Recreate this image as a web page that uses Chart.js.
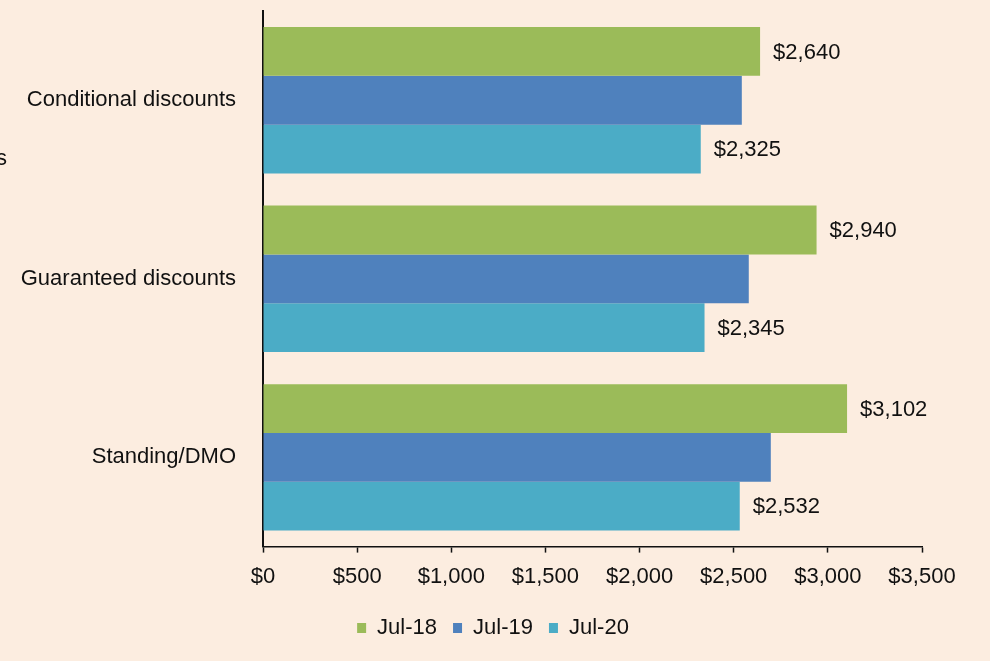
<!DOCTYPE html>
<html>
<head>
<meta charset="utf-8">
<script src="https://cdn.jsdelivr.net/npm/chart.js@4/dist/chart.umd.min.js"></script>
<style>
  html, body { margin: 0; padding: 0; background: #fcede0; }
  #wrap { width: 990px; height: 661px; position: relative; }
</style>
</head>
<body>
<div id="wrap"><canvas id="graph"></canvas></div>
<script>
// categories and series
var categories = ['Conditional discounts', 'Guaranteed discounts', 'Standing/DMO'];
var jul18 = [2640, 2940, 3102];
var jul19 = [2543, 2580, 2697];
var jul20 = [2325, 2345, 2532];
var seriesNames = ['Jul-18', 'Jul-19', 'Jul-20'];
var xTicks = [0, 500, 1000, 1500, 2000, 2500, 3000, 3500];
var labelledSeries = [0, 2];   // Jul-19 has no value labels in the original

var FONT = '"Liberation Sans", Arial, Helvetica, sans-serif';

function money(v) {
  return '$' + v.toLocaleString('en-US');
}

// value labels at the end of the bars
var barLabels = {
  id: 'barLabels',
  afterDatasetsDraw: function(chart) {
    var ctx = chart.ctx;
    ctx.save();
    ctx.font = '22px ' + FONT;
    ctx.fillStyle = '#111';
    ctx.textAlign = 'left';
    ctx.textBaseline = 'middle';
    labelledSeries.forEach(function(di) {
      var meta = chart.getDatasetMeta(di);
      meta.data.forEach(function(bar, i) {
        ctx.fillText(money(chart.data.datasets[di].data[i]), bar.x + 13, bar.y + 1);
      });
    });
    ctx.restore();
  }
};

// leftover bit of a cut-off caption on the left edge
var edgeText = {
  id: 'edgeText',
  afterDraw: function(chart) {
    var ctx = chart.ctx;
    ctx.save();
    ctx.font = '22px ' + FONT;
    ctx.fillStyle = '#111';
    ctx.textBaseline = 'middle';
    ctx.fillText('s', -4, 159);
    ctx.restore();
  }
};

// legend sits centred on the whole picture, not on the padded box
var legendShift = {
  id: 'legendShift',
  afterLayout: function(chart) {
    var lg = chart.legend;
    if (!lg) return;
    var dx = chart.width / 2 - (lg.left + lg.right) / 2 - 2;
    lg.left += dx;
    lg.right += dx;
  }
};

var ctx = document.getElementById('graph');
var myChart = new Chart(ctx, {
  type: 'bar',
  data: {
    labels: categories,
    datasets: [{
      label: seriesNames[0],
      data: jul18,
      backgroundColor: '#9bbb59'
    }, {
      label: seriesNames[1],
      data: jul19,
      backgroundColor: '#4f81bd'
    }, {
      label: seriesNames[2],
      data: jul20,
      backgroundColor: '#4bacc6'
    }]
  },
  options: {
    indexAxis: 'y',
    responsive: true,
    maintainAspectRatio: false,
    animation: false,
    categoryPercentage: 0.82,
    barPercentage: 1.0,
    layout: {
      padding: { top: 11, right: 68, left: 0, bottom: 12 }
    },
    scales: {
      x: {
        min: 0,
        max: 3500,
        afterBuildTicks: function(scale) {
          scale.ticks = xTicks.map(function(v) { return { value: v }; });
        },
        grid: {
          drawOnChartArea: false,
          drawTicks: true,
          tickLength: 6,
          tickWidth: 1.5,
          tickColor: '#111'
        },
        border: { color: '#111', width: 1.5 },
        ticks: {
          padding: 11,
          color: '#111',
          font: { family: FONT, size: 22 },
          maxRotation: 0,
          callback: function(v) { return money(v); }
        }
      },
      y: {
        grid: {
          drawOnChartArea: false,
          drawTicks: true,
          tickLength: 27,
          tickColor: 'rgba(0,0,0,0)'
        },
        border: { color: '#111', width: 2 },
        afterFit: function(scale) { scale.width = 263; },
        ticks: {
          padding: 0,
          color: '#111',
          font: { family: FONT, size: 22, lineHeight: 1.0 }
        }
      }
    },
    plugins: {
      legend: {
        position: 'bottom',
        labels: {
          boxWidth: 9,
          boxHeight: 10,
          padding: 16,
          color: '#111',
          font: { family: FONT, size: 22 }
        }
      },
      tooltip: { enabled: false }
    }
  },
  plugins: [barLabels, edgeText, legendShift]
});
</script>
</body>
</html>
